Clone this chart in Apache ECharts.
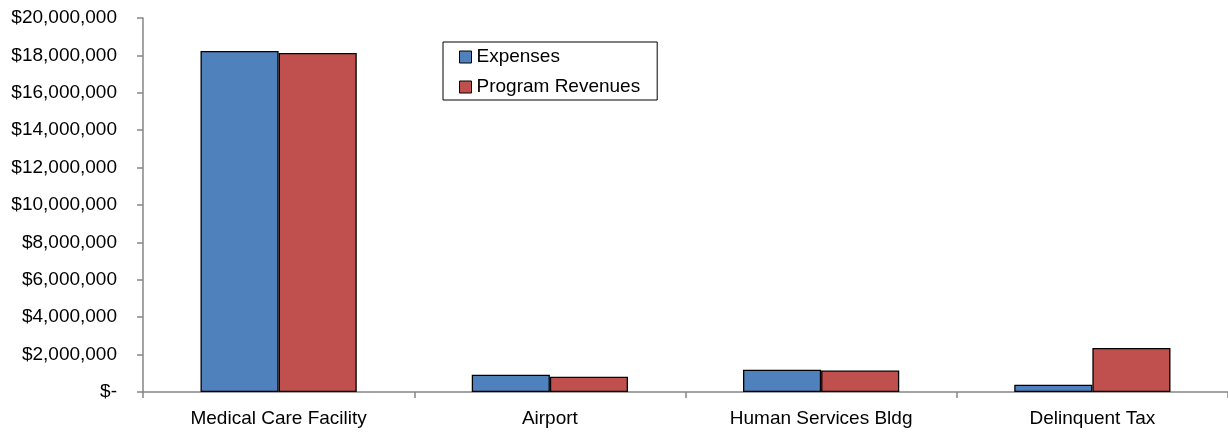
<!DOCTYPE html>
<html>
<head>
<meta charset="utf-8">
<script src="https://cdn.jsdelivr.net/npm/echarts@6/dist/echarts.min.js"></script>
<style>html,body{margin:0;padding:0;background:#fff}#c{width:1228px;height:436px}</style>
</head>
<body>
<div id="c"></div>
<script>
var categories = ['Medical Care Facility', 'Airport', 'Human Services Bldg', 'Delinquent Tax'];
var expenses = [18240000, 925000, 1190000, 390000];
var programRevenues = [18130000, 820000, 1150000, 2350000];
var yTicks = {min: 0, max: 20000000, interval: 2000000};

var FONT = 'Liberation Sans';
var FS = 19;
var chart = echarts.init(document.getElementById('c'), null, {renderer: 'canvas'});
function fmt(v) {
  if (v === 0) return '$-';
  return '$' + v.toLocaleString('en-US');
}
chart.setOption({
  animation: false,
  textStyle: {fontFamily: FONT},
  grid: {left: 143, right: 0, top: 18, bottom: 44, containLabel: false},
  legend: {
    data: ['Expenses', 'Program Revenues'],
    orient: 'vertical',
    left: 443,
    top: 42,
    icon: 'rect',
    itemWidth: 12,
    itemHeight: 12,
    itemGap: 10,
    padding: [5, 17, 3, 16],
    borderColor: '#000',
    borderWidth: 1,
    backgroundColor: '#fff',
    textStyle: {fontFamily: FONT, fontSize: FS, color: '#000', lineHeight: 20, padding: [0, 0, 0, 0]},
    itemStyle: {borderColor: '#000', borderWidth: 1}
  },
  xAxis: {
    type: 'category',
    data: categories,
    axisLine: {lineStyle: {color: '#868686', width: 1.5}},
    axisTick: {show: true, alignWithLabel: false, length: 6, lineStyle: {color: '#868686', width: 1.5}},
    axisLabel: {fontFamily: FONT, fontSize: FS, color: '#000', margin: 17}
  },
  yAxis: {
    type: 'value',
    min: yTicks.min,
    max: yTicks.max,
    interval: yTicks.interval,
    splitLine: {show: false},
    axisLine: {show: true, lineStyle: {color: '#868686', width: 1.5}},
    axisTick: {show: true, length: 6, lineStyle: {color: '#868686', width: 1.5}},
    axisLabel: {fontFamily: FONT, fontSize: FS, color: '#000', margin: 26, formatter: fmt}
  },
  series: [
    {
      name: 'Expenses',
      type: 'bar',
      data: expenses,
      barWidth: '28.8%',
      barGap: '0%',
      itemStyle: {color: '#4F81BD', borderColor: '#000', borderWidth: 1.3}
    },
    {
      name: 'Program Revenues',
      type: 'bar',
      data: programRevenues,
      barWidth: '28.8%',
      barGap: '0%',
      itemStyle: {color: '#C0504D', borderColor: '#000', borderWidth: 1.3}
    }
  ]
});
</script>
</body>
</html>
